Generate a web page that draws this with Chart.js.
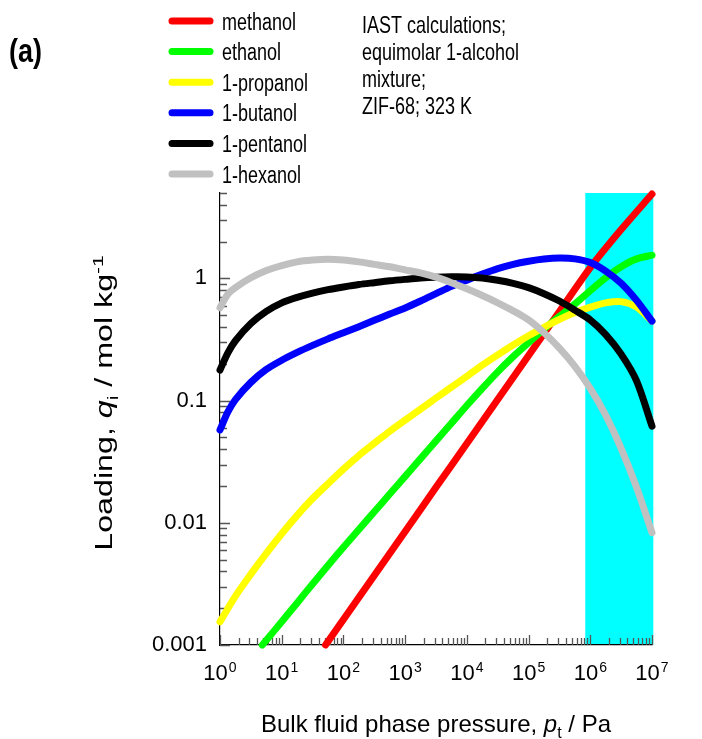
<!DOCTYPE html>
<html>
<head>
<meta charset="utf-8">
<script src="https://cdn.jsdelivr.net/npm/chart.js@4.4.1/dist/chart.umd.min.js"></script>
<style>
html,body{margin:0;padding:0;background:#ffffff;}
#wrap{width:702px;height:739px;position:relative;}
canvas{display:block;}
</style>
</head>
<body>
<div id="wrap"><canvas id="c" width="702" height="739"></canvas></div>
<script>
// ---------- data ----------
const seriesNames = ['methanol', 'ethanol', '1-propanol', '1-butanol', '1-pentanol', '1-hexanol'];
const seriesColors = ['#ff0000', '#00ff00', '#ffff00', '#0000ff', '#000000', '#c0c0c0'];

const pressureMethanol = [51.3, 100, 316, 1000, 3162, 10000, 31623, 100000, 316228, 1000000, 3162278, 10000000];
const loadingMethanol  = [0.001, 0.00162, 0.00371, 0.00849, 0.0195, 0.0446, 0.102, 0.234, 0.536, 1.227, 2.51, 4.9];

const pressureEthanol = [4.85, 10, 17.78, 31.62, 56.23, 100, 177.8, 316.2, 562.3, 1000, 1778, 3162, 5623, 10000, 17783, 31623, 56234, 100000, 177828, 316228, 562341, 1000000, 1778279, 3162278, 5623413, 10000000];
const loadingEthanol  = [0.001, 0.00155, 0.00221, 0.00316, 0.00447, 0.00631, 0.00881, 0.0123, 0.0172, 0.0240, 0.0335, 0.0468, 0.0653, 0.0912, 0.126, 0.172, 0.229, 0.298, 0.385, 0.490, 0.617, 0.794, 1.012, 1.245, 1.445, 1.549];

const pressureGrid = [1, 1.778, 3.162, 5.623, 10, 17.78, 31.62, 56.23, 100, 177.8, 316.2, 562.3, 1000, 1778, 3162, 5623, 10000, 17783, 31623, 56234, 100000, 177828, 316228, 562341, 1000000, 1778279, 3162278, 5623413, 10000000];
const loadingPropanol = [0.00155, 0.00251, 0.0038, 0.00562, 0.00813, 0.0115, 0.0158, 0.0209, 0.0275, 0.0355, 0.0447, 0.0562, 0.0692, 0.0851, 0.105, 0.129, 0.158, 0.195, 0.237, 0.285, 0.339, 0.398, 0.462, 0.525, 0.582, 0.631, 0.646, 0.582, 0.447];

const pressureGridFine = [1, 1.334, 1.778, 3.162, 5.623, 10, 17.78, 31.62, 56.23, 100, 177.8, 316.2, 562.3, 1000, 1778, 3162, 5623, 10000, 17783, 31623, 56234, 100000, 177828, 316228, 562341, 1000000, 1778279, 3162278, 5623413, 10000000];
const loadingButanol  = [0.0575, 0.0804, 0.102, 0.141, 0.180, 0.214, 0.248, 0.283, 0.320, 0.359, 0.403, 0.454, 0.511, 0.573, 0.653, 0.750, 0.861, 0.968, 1.084, 1.202, 1.303, 1.380, 1.439, 1.466, 1.445, 1.349, 1.148, 0.912, 0.661, 0.447];
const loadingPentanol = [0.178, 0.245, 0.309, 0.427, 0.537, 0.631, 0.700, 0.759, 0.809, 0.851, 0.891, 0.923, 0.955, 0.982, 1.007, 1.023, 1.030, 1.028, 1.007, 0.966, 0.912, 0.841, 0.750, 0.653, 0.550, 0.457, 0.347, 0.240, 0.145, 0.0617];
const loadingHexanol  = [0.575, 0.741, 0.841, 1.012, 1.161, 1.274, 1.365, 1.413, 1.432, 1.413, 1.365, 1.303, 1.245, 1.175, 1.109, 1.023, 0.923, 0.822, 0.724, 0.631, 0.543, 0.457, 0.359, 0.269, 0.191, 0.126, 0.0759, 0.0407, 0.0195, 0.0083];

const highlightPressureRange = [830000, 10500000];

const xTickExponents = [0, 1, 2, 3, 4, 5, 6, 7];
const yTickValues = [0.001, 0.01, 0.1, 1];
const yTickLabels = ['0.001', '0.01', '0.1', '1'];

const annotationLines = ['IAST calculations;', 'equimolar 1-alcohol', 'mixture;', 'ZIF-68; 323 K'];
const panelLabel = '(a)';

// ---------- build ----------
const FONT = '"Liberation Sans", Arial, Helvetica, sans-serif';
Chart.defaults.font.family = FONT;

const pairs = (xs, ys) => xs.map((x, i) => ({x: x, y: ys[i]}));
const seriesData = [
  pairs(pressureMethanol, loadingMethanol),
  pairs(pressureEthanol, loadingEthanol),
  pairs(pressureGrid, loadingPropanol),
  pairs(pressureGridFine, loadingButanol),
  pairs(pressureGridFine, loadingPentanol),
  pairs(pressureGridFine, loadingHexanol)
];

const datasets = seriesNames.map((name, i) => ({
  label: name,
  data: seriesData[i],
  borderColor: seriesColors[i],
  backgroundColor: seriesColors[i],
  borderWidth: 7,
  pointRadius: 0,
  pointHoverRadius: 0,
  fill: false,
  showLine: true,
  tension: 0.3,
  borderCapStyle: 'round',
  borderJoinStyle: 'round',
  clip: false,
  order: seriesNames.length - i
}));

function stretchedText(ctx, txt, x, y, sy) {
  ctx.save();
  ctx.translate(x, y);
  ctx.scale(1, sy);
  ctx.fillText(txt, 0, 0);
  ctx.restore();
}

const decor = {
  id: 'decor',
  beforeDraw(chart) {
    const {ctx, chartArea: a, scales: {x}} = chart;
    const x0 = x.getPixelForValue(highlightPressureRange[0]);
    const x1 = x.getPixelForValue(highlightPressureRange[1]);
    ctx.save();
    ctx.fillStyle = '#00ffff';
    ctx.fillRect(x0, a.top, x1 - x0, a.bottom - a.top);
    ctx.restore();
  },
  beforeDatasetsDraw(chart) {
    const {ctx, chartArea: a, scales: {x, y}} = chart;
    ctx.save();
    ctx.strokeStyle = '#555555';
    ctx.lineWidth = 1.3;
    ctx.beginPath();
    for (let d = -3; d <= 0; d++) {
      for (let m = 1; m <= 9; m++) {
        const v = m * Math.pow(10, d);
        if (v > y.max * 1.0001) continue;
        const py = Math.round(y.getPixelForValue(v)) + 0.5;
        const len = m === 1 ? 10 : 7;
        ctx.moveTo(a.left, py);
        ctx.lineTo(a.left + len, py);
      }
    }
    for (let d = 0; d <= 7; d++) {
      for (let m = 1; m <= 9; m++) {
        const v = m * Math.pow(10, d);
        if (v > x.max * 1.0001) continue;
        const px = Math.round(x.getPixelForValue(v)) + 0.5;
        const len = m === 1 ? 10 : 7;
        ctx.moveTo(px, a.bottom);
        ctx.lineTo(px, a.bottom - len);
      }
    }
    ctx.stroke();
    ctx.restore();
  },
  afterDraw(chart) {
    const {ctx, chartArea: a, scales: {x}} = chart;
    ctx.save();
    ctx.fillStyle = '#000000';
    ctx.textBaseline = 'alphabetic';

    ctx.font = 'bold 27px ' + FONT;
    ctx.textAlign = 'left';
    stretchedText(ctx, panelLabel, 9, 62, 1.2);

    chart.data.datasets.forEach((ds, i) => {
      const cy = 21 + i * 30.6;
      ctx.strokeStyle = ds.borderColor;
      ctx.lineWidth = 7;
      ctx.lineCap = 'round';
      ctx.beginPath();
      ctx.moveTo(172, cy);
      ctx.lineTo(210, cy);
      ctx.stroke();
      ctx.font = '18px ' + FONT;
      ctx.textAlign = 'left';
      stretchedText(ctx, ds.label, 222, cy + 8.5, 1.28);
    });

    ctx.font = '18px ' + FONT;
    annotationLines.forEach((t, i) => {
      stretchedText(ctx, t, 362, 33 + i * 27, 1.3);
    });

    xTickExponents.forEach(e => {
      const px = x.getPixelForValue(Math.pow(10, e));
      ctx.font = '22px ' + FONT;
      const wb = ctx.measureText('10').width;
      ctx.font = '14px ' + FONT;
      const we = ctx.measureText(String(e)).width;
      const start = px - (wb + 1 + we) / 2;
      ctx.textAlign = 'left';
      ctx.font = '22px ' + FONT;
      ctx.fillText('10', start, 680);
      ctx.font = '14px ' + FONT;
      ctx.fillText(String(e), start + wb + 1, 672);
    });

    const xParts = [
      {t: 'Bulk fluid phase pressure, ', f: '24px ' + FONT, dy: 0},
      {t: 'p', f: 'italic 24px ' + FONT, dy: 0},
      {t: 't', f: '16px ' + FONT, dy: 6},
      {t: ' / Pa', f: '24px ' + FONT, dy: 0}
    ];
    let tw = 0;
    xParts.forEach(p => { ctx.font = p.f; p.w = ctx.measureText(p.t).width; tw += p.w; });
    let cx = (a.left + a.right) / 2 - tw / 2;
    xParts.forEach(p => { ctx.font = p.f; ctx.fillText(p.t, cx, 732 + p.dy); cx += p.w; });

    const yParts = [
      {t: 'Loading, ', f: '23px ' + FONT, dy: 0},
      {t: 'q', f: 'italic 23px ' + FONT, dy: 0},
      {t: 'i', f: '15px ' + FONT, dy: 6},
      {t: ' / mol kg', f: '23px ' + FONT, dy: 0},
      {t: '-1', f: '15px ' + FONT, dy: -9}
    ];
    let yw = 0;
    yParts.forEach(p => { ctx.font = p.f; p.w = ctx.measureText(p.t).width; yw += p.w; });
    const stretch = 1.4;
    ctx.save();
    ctx.translate(112, 403);
    ctx.rotate(-Math.PI / 2);
    ctx.scale(stretch, 1);
    let cxx = -yw / 2;
    yParts.forEach(p => { ctx.font = p.f; ctx.fillText(p.t, cxx, p.dy); cxx += p.w; });
    ctx.restore();

    ctx.restore();
  }
};

new Chart(document.getElementById('c'), {
  type: 'line',
  data: {datasets: datasets},
  options: {
    responsive: false,
    animation: false,
    devicePixelRatio: 1,
    layout: {padding: {left: 150, right: 50, top: 193, bottom: 0}},
    plugins: {legend: {display: false}, tooltip: {enabled: false}},
    scales: {
      x: {
        type: 'logarithmic',
        position: 'bottom',
        min: 1,
        max: 10000000,
        grid: {display: false, drawTicks: false},
        border: {display: true, color: '#000000', width: 1.2},
        ticks: {display: false},
        afterFit: (s) => { s.height = 94; }
      },
      y: {
        type: 'logarithmic',
        position: 'left',
        min: 0.001,
        max: 5,
        grid: {display: false, drawTicks: false},
        border: {display: true, color: '#000000', width: 1.2},
        afterBuildTicks: (s) => { s.ticks = yTickValues.map(v => ({value: v})); },
        ticks: {
          autoSkip: false,
          color: '#000000',
          font: {size: 22},
          padding: 13,
          callback: (v) => { const k = yTickValues.indexOf(Number(v)); return k >= 0 ? yTickLabels[k] : ''; }
        },
        afterFit: (s) => { s.width = 70; }
      }
    }
  },
  plugins: [decor]
});
</script>
</body>
</html>
